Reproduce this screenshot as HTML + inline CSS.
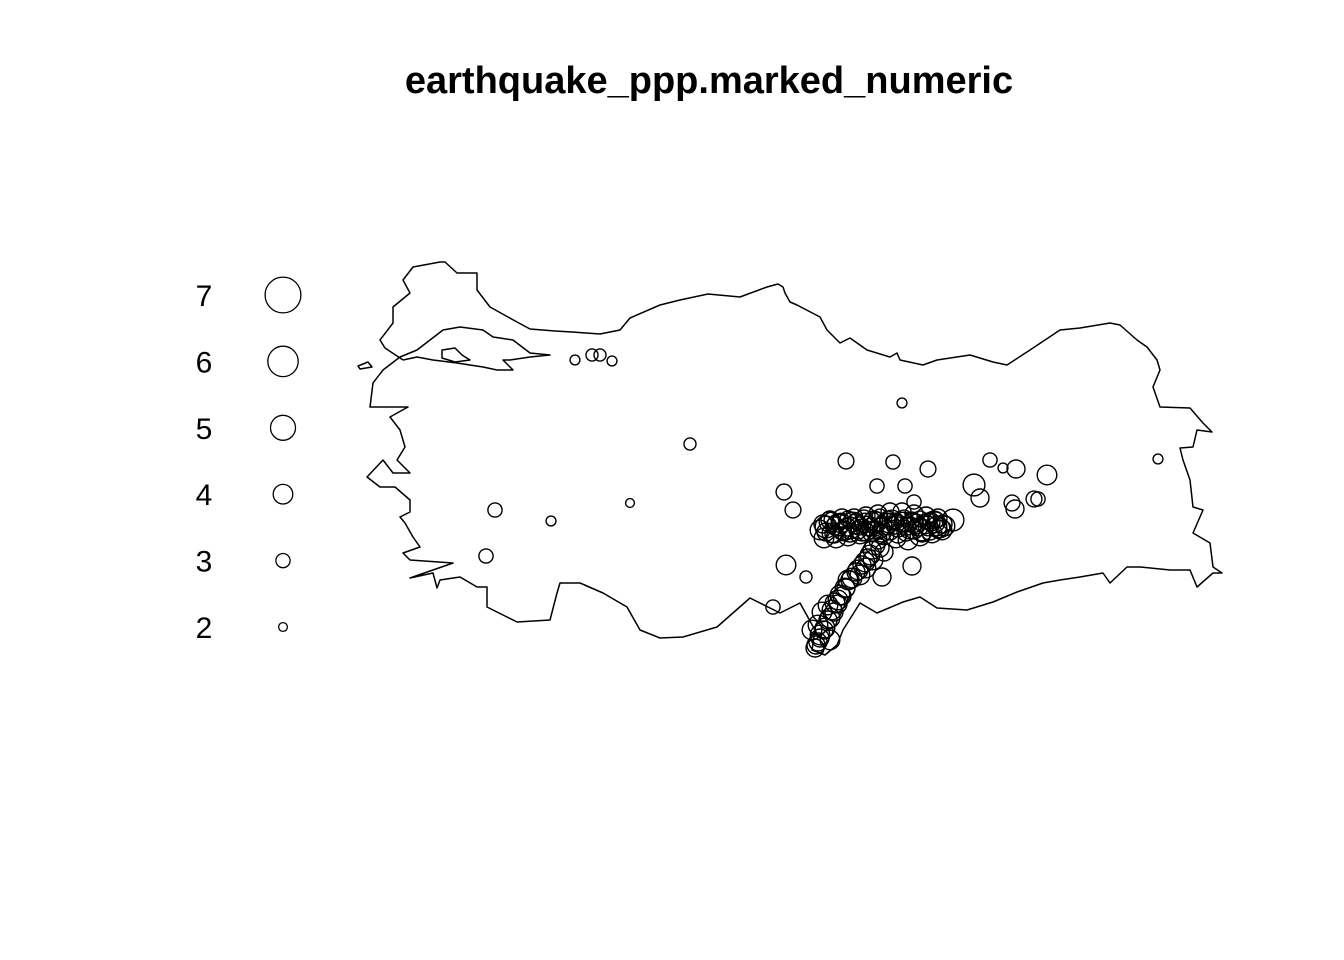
<!DOCTYPE html>
<html><head><meta charset="utf-8">
<style>
html,body{margin:0;padding:0;background:#fff;}
svg{display:block;}
text{font-family:"Liberation Sans",sans-serif;}
</style></head>
<body>
<svg id="chart" width="1344" height="960" viewBox="0 0 1344 960" xmlns="http://www.w3.org/2000/svg">
<rect width="1344" height="960" fill="#fff"/>
<text x="709" y="93" text-anchor="middle" font-size="38" font-weight="bold">earthquake_ppp.marked_numeric</text>
<g fill="none" stroke="#000" stroke-width="1.5" stroke-linejoin="round">
<path d="M517,322 L530,329 L555,331 L572,332 L600,334 L620,330 L630,318 L660,305 L680,300 L708,294 L740,297 L767,287 L778,284 L783,287 L785,293 L790,302 L797,305 L820,317 L827,330 L840,343 L850,338 L867,350 L890,357 L897,353 L900,360 L923,365 L937,360 L970,355 L993,362 L1007,365 L1030,350 L1060,330 L1080,328 L1110,323 L1120,325 L1137,340 L1147,347 L1157,360 L1160,370 L1153,387 L1160,407 L1190,408 L1203,423 L1212,432 L1197,430 L1193,447 L1180,448 L1183,460 L1190,480 L1193,507 L1203,510 L1193,533 L1210,543 L1213,567 L1222,573 L1213,573 L1197,587 L1190,570 L1170,570 L1140,567 L1127,567 L1110,583 L1103,573 L1080,577 L1060,580 L1043,583 L1017,592 L993,602 L967,610 L937,608 L920,597 L903,602 L877,613 L860,603 L843,630 L837,645 L825,655 L812,650 L815,630 L800,603 L780,613 L750,598 L717,627 L683,637 L660,638 L640,630 L627,607 L603,593 L580,583 L560,583 L557,593 L550,620 L517,622 L507,617 L487,607 L487,587 L477,587 L460,577 L440,580 L437,588 L433,573 L410,578 L453,563 L410,560 L403,553 L420,547 L413,537 L405,523 L400,517 L410,512 L410,500 L395,487 L380,487 L367,477 L383,460 L393,473 L410,473 L397,460 L405,447 L400,430 L390,417 L408,407 L370,407 L373,383 L383,370 L400,357 L417,350 L443,330 L460,327 L483,330 L493,337 L513,340 L530,353 L550,355 L530,357 L510,360 L503,360 L513,370 L497,370 L483,367 L457,363 L433,360 L417,357 L403,360"/>
<path d="M403,360 L385,348 L380,340 L393,323 L393,307 L410,293 L403,280 L413,267 L440,262 L445,262 L457,273 L477,273 L477,290 L490,307 L517,322"/>
<path d="M442,350 L455,348 L462,355 L470,360 L455,362 L442,358 Z"/>
<path d="M358,366 L368,362 L372,367 L360,369 Z"/>
</g>
<g id="legend"></g>
<g id="points" fill="none" stroke="#000" stroke-width="1.4"></g>
<script>
const legendMags=[7,6,5,4,3,2];
const ptX=[575,592,600,612,690,902,495,551,630,486,1158,846,893,928,990,1003,1016,1047,974,980,784,793,1012,1015,1034,1038,786,806,912,882,773,953,877,905,914,
820,826,832,838,844,850,856,862,868,874,880,886,892,898,904,910,916,922,928,934,940,945,824,836,848,860,872,884,896,908,920,932,942,830,842,854,866,878,890,902,914,926,938,
875,870,865,858,852,845,840,835,832,830,825,820,818,815,818,828,860,866,873,848,838,812,822,830,
823,829,835,841,847,853,859,865,871,877,883,889,895,901,907,913,919,925,931,937,943,
826,834,842,850,858,866,874,882,890,898,906,914,922,930,938,
832,840,848,856,864,872,880,888,896,904,912,920,928,936,
878,872,868,862,856,850,846,842,838,834,828,824,820,816,880,884];
const ptY=[360,355,355,361,444,403,510,521,503,556,459,461,462,469,460,468,469,475,485,498,492,510,503,509,499,499,565,577,566,577,607,520,486,486,502,
530,527,533,525,531,528,524,530,526,522,528,524,520,526,522,528,524,530,526,522,528,526,538,538,536,534,532,535,538,540,536,533,530,520,518,518,516,514,512,512,514,516,518,
545,555,562,570,578,588,595,603,610,618,628,635,642,648,625,605,575,568,560,580,600,630,612,640,
524,522,526,523,527,522,526,523,527,522,526,523,525,522,526,523,527,524,522,526,524,
532,534,531,533,530,532,530,533,531,534,532,530,533,531,529,
520,522,519,521,518,520,517,519,521,518,520,519,521,520,
540,550,558,565,572,580,588,596,604,612,620,630,638,645,548,552];
const ptMag=[2.2,2.6,2.6,2.2,2.6,2.2,3,2.2,2,3,2.2,3.3,3,3.3,3,2.2,3.7,4,4.4,3.7,3.3,3.3,3.3,3.7,3.3,3,4,2.6,3.7,3.7,3,4.4,3,3,3,
4,4.4,4,4.4,4,4.4,4,4.4,4,4.4,4,4.4,4,4.4,4,4.4,4,4.4,4,4.4,4,4,4,4,4,4,4,4,4,4,4,4,4,3.7,3.7,3.7,3.7,3.7,3.7,3.7,3.7,3.7,3.7,
4,4,4,4,4,4,4,4,4,4,4,4,3.7,3.7,4,4,4,4,4,4,4,4,4,4,
3.7,4,3.7,4,3.7,4,3.7,4,3.7,4,3.7,4,3.7,4,3.7,4,3.7,4,3.7,4,3.7,
3.7,3.7,3.7,3.7,3.7,3.7,3.7,3.7,3.7,3.7,3.7,3.7,3.7,3.7,3.7,
3.3,3.3,3.3,3.3,3.3,3.3,3.3,3.3,3.3,3.3,3.3,3.3,3.3,3.3,
3.7,3.7,3.7,3.7,3.7,3.7,3.7,3.7,3.7,3.7,3.7,3.7,3.7,3.7,3.7,3.7];
const NS='http://www.w3.org/2000/svg';
function rScale(m){return 2.7*m-1;}
const leg=document.getElementById('legend');
legendMags.forEach((m,i)=>{
  const y=295+i*66.4;
  const t=document.createElementNS(NS,'text');
  
  
  t.setAttribute('x',204);t.setAttribute('y',y+11);t.setAttribute('text-anchor','middle');t.setAttribute('font-size','30');
  t.textContent=m;leg.appendChild(t);
  const c=document.createElementNS(NS,'circle');
  
  
  c.setAttribute('cx',283);c.setAttribute('cy',y);c.setAttribute('r',rScale(m));
  c.setAttribute('fill','none');c.setAttribute('stroke','#000');c.setAttribute('stroke-width','1.3');
  leg.appendChild(c);
});
const pg=document.getElementById('points');
ptX.forEach((x,i)=>{
  const c=document.createElementNS(NS,'circle');
  
  
  c.setAttribute('cx',x);c.setAttribute('cy',ptY[i]);c.setAttribute('r',rScale(ptMag[i]));
  pg.appendChild(c);
});
</script>
</svg>
</body></html>
